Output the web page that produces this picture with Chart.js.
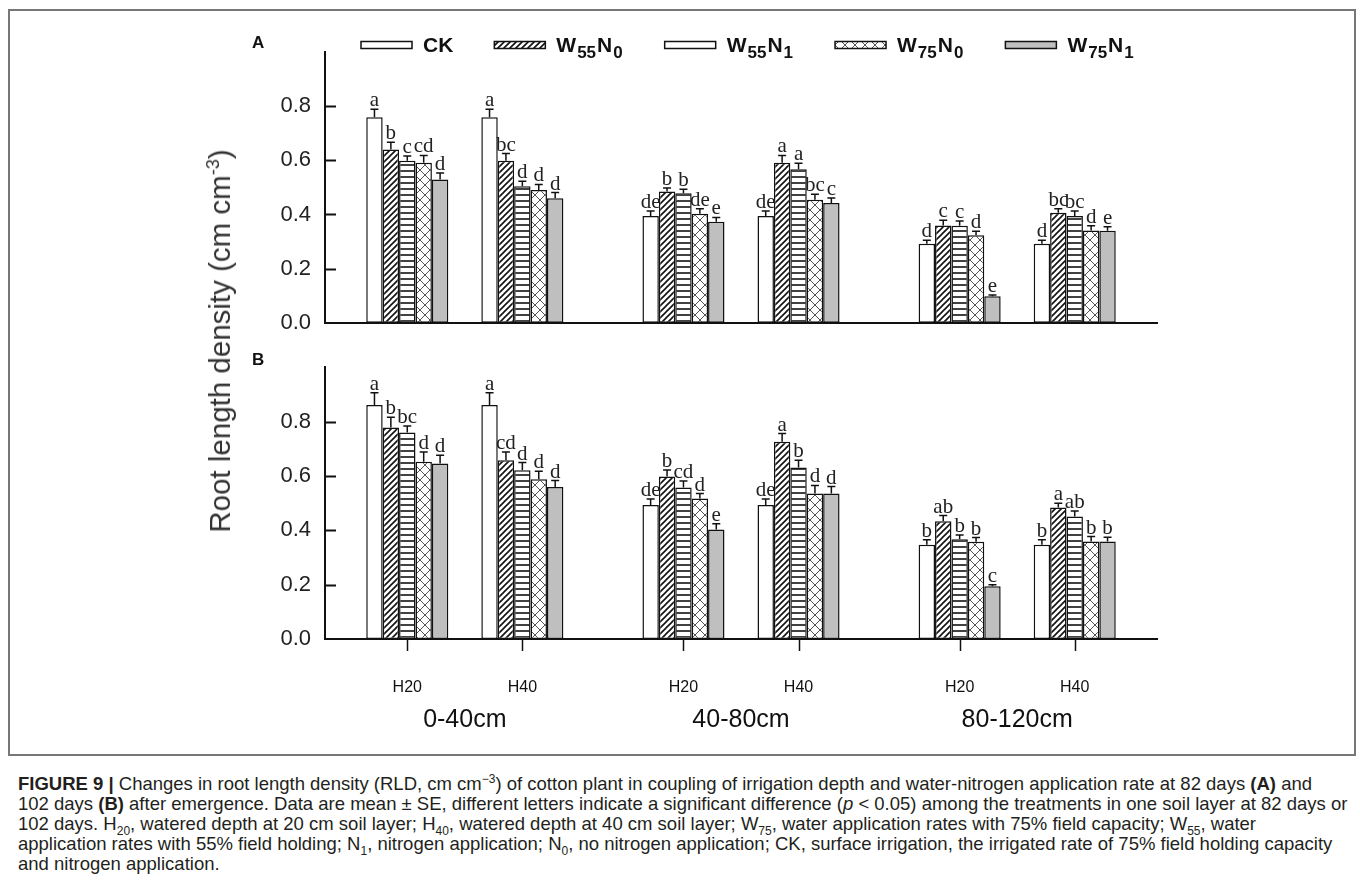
<!DOCTYPE html>
<html>
<head>
<meta charset="utf-8">
<script src="https://cdn.jsdelivr.net/npm/chart.js@4.4.1/dist/chart.umd.min.js"></script>
<style>
  html, body { margin: 0; padding: 0; background: #fff; }
  body { width: 1360px; height: 881px; position: relative; overflow: hidden;
         font-family: 'Liberation Sans', Arial, sans-serif; color: #222; }
  #frame { position: absolute; left: 8px; top: 9px; width: 1348px; height: 747px;
           border: 2px solid #777; box-sizing: border-box; }
  canvas { position: absolute; left: 0; }
  #chartA { top: 0; }
  #chartB { top: 340px; }
  .tag { position: absolute; font-weight: bold; font-size: 17px; color: #111; }
  #ytitle { position: absolute; left: 220px; top: 341px; white-space: nowrap;
            transform: translate(-50%, -50%) rotate(-90deg); font-size: 29.5px; color: #333; }
  #ytitle sup { font-size: 18px; }
  #caption { position: absolute; left: 18px; top: 774px; width: 1340px; font-size: 18.5px;
             line-height: 20px; color: #231f20; white-space: nowrap; }
  #caption sub, #caption sup { font-size: 12px; line-height: 0; }
</style>
</head>
<body>
<div id="frame"></div>
<canvas id="chartA" width="1360" height="350"></canvas>
<canvas id="chartB" width="1360" height="410"></canvas>
<div class="tag" style="left:252px; top:33px;">A</div>
<div class="tag" style="left:252px; top:350px;">B</div>
<div id="ytitle">Root length density (cm cm<sup>-3</sup>)</div>
<div id="caption">
<b>FIGURE 9 |</b> Changes in root length density (RLD, cm cm<sup>−3</sup>) of cotton plant in coupling of irrigation depth and water-nitrogen application rate at 82 days <b>(A)</b> and<br>
102 days <b>(B)</b> after emergence. Data are mean ± SE, different letters indicate a significant difference (<i>p</i> &lt; 0.05) among the treatments in one soil layer at 82 days or<br>
102 days. H<sub>20</sub>, watered depth at 20 cm soil layer; H<sub>40</sub>, watered depth at 40 cm soil layer; W<sub>75</sub>, water application rates with 75% field capacity; W<sub>55</sub>, water<br>
application rates with 55% field holding; N<sub>1</sub>, nitrogen application; N<sub>0</sub>, no nitrogen application; CK, surface irrigation, the irrigated rate of 75% field holding capacity<br>
and nitrogen application.
</div>
<script>
// categories
const depths = ['H20', 'H40'];
const layers = ['0-40cm', '40-80cm', '80-120cm'];
const treatments = ['CK', 'W55N0', 'W55N1', 'W75N0', 'W75N1'];

// (A) 82 days -- order: 0-40 H20, 0-40 H40, 40-80 H20, 40-80 H40, 80-120 H20, 80-120 H40
const ckA    = [0.759, 0.759, 0.394, 0.394, 0.292, 0.292];
const w55n0A = [0.640, 0.598, 0.485, 0.591, 0.359, 0.406];
const w55n1A = [0.598, 0.504, 0.478, 0.567, 0.358, 0.394];
const w75n0A = [0.591, 0.490, 0.403, 0.454, 0.323, 0.341];
const w75n1A = [0.529, 0.460, 0.373, 0.442, 0.098, 0.340];

const ckAErr    = [0.030, 0.030, 0.019, 0.019, 0.013, 0.013];
const w55n0AErr = [0.027, 0.027, 0.013, 0.027, 0.020, 0.015];
const w55n1AErr = [0.018, 0.019, 0.015, 0.022, 0.018, 0.019];
const w75n0AErr = [0.027, 0.021, 0.018, 0.021, 0.015, 0.017];
const w75n1AErr = [0.024, 0.021, 0.016, 0.019, 0.005, 0.015];

const ckALet    = ['a', 'a', 'de', 'de', 'd', 'd'];
const w55n0ALet = ['b', 'bc', 'b', 'a', 'c', 'bc'];
const w55n1ALet = ['c', 'd', 'b', 'a', 'c', 'bc'];
const w75n0ALet = ['cd', 'd', 'de', 'bc', 'd', 'd'];
const w75n1ALet = ['d', 'd', 'e', 'c', 'e', 'e'];

// (B) 102 days
const ckB    = [0.861, 0.861, 0.493, 0.493, 0.347, 0.347];
const w55n0B = [0.778, 0.658, 0.598, 0.726, 0.433, 0.484];
const w55n1B = [0.760, 0.621, 0.557, 0.631, 0.367, 0.451];
const w75n0B = [0.652, 0.588, 0.517, 0.535, 0.358, 0.359];
const w75n1B = [0.646, 0.559, 0.403, 0.535, 0.194, 0.359];

const ckBErr    = [0.045, 0.045, 0.022, 0.022, 0.018, 0.018];
const w55n0BErr = [0.038, 0.030, 0.024, 0.030, 0.021, 0.015];
const w55n1BErr = [0.024, 0.028, 0.024, 0.027, 0.016, 0.020];
const w75n0BErr = [0.036, 0.029, 0.018, 0.030, 0.015, 0.018];
const w75n1BErr = [0.030, 0.024, 0.021, 0.026, 0.006, 0.015];

const ckBLet    = ['a', 'a', 'de', 'de', 'b', 'b'];
const w55n0BLet = ['b', 'cd', 'b', 'a', 'ab', 'a'];
const w55n1BLet = ['bc', 'd', 'cd', 'b', 'b', 'ab'];
const w75n0BLet = ['d', 'd', 'd', 'd', 'b', 'b'];
const w75n1BLet = ['d', 'd', 'e', 'd', 'c', 'b'];

// y axis
const yMin = 0, yMax = 1, yStep = 0.2;

// x layout: one unit between H20 and H40, a wider step between soil layers
const LAYER_STEP = 2.4;
const X_PAD = 0.715;
const FONT = "'Liberation Sans', Arial, sans-serif";
const INK = '#111';

Chart.defaults.font.family = FONT;
Chart.defaults.color = INK;

function xPos(k) {
    return Math.floor(k / 2) * LAYER_STEP + (k % 2);
}
const depthTicks = depths.length * layers.length;
const tickValues = Array.from({ length: depthTicks }, (_, k) => xPos(k));
const layerValues = layers.map((_, i) => i * LAYER_STEP + 0.5);
const xMax = tickValues[tickValues.length - 1] + X_PAD;

function makePattern(kind) {
    const c = document.createElement('canvas');
    const size = kind === 'cross' ? 10 : 6;
    c.width = size; c.height = size;
    const g = c.getContext('2d');
    g.fillStyle = '#fff';
    g.fillRect(0, 0, size, size);
    g.strokeStyle = INK;
    g.beginPath();
    if (kind === 'diag') {
        g.lineWidth = 1.6;
        g.moveTo(-1, 7); g.lineTo(7, -1);
        g.moveTo(-1, 1); g.lineTo(1, -1);
        g.moveTo(5, 7); g.lineTo(7, 5);
    } else if (kind === 'horiz') {
        g.lineWidth = 1.6;
        g.moveTo(0, 3); g.lineTo(6, 3);
    } else if (kind === 'cross') {
        g.strokeStyle = '#555';
        g.lineWidth = 1;
        g.moveTo(0, 0); g.lineTo(10, 10);
        g.moveTo(10, 0); g.lineTo(0, 10);
    }
    g.stroke();
    return g.createPattern(c, 'repeat');
}

const fills = [
    '#ffffff',
    makePattern('diag'),
    makePattern('horiz'),
    makePattern('cross'),
    '#bfbfbf'
];
// the thin legend keys show no stripes for W55N1
const keyFills = fills.map((f, i) => (i === 2 ? '#ffffff' : f));

// error bars with their letters
const errorPlugin = {
    id: 'errorLetters',
    afterDatasetsDraw(chart) {
        const { ctx } = chart;
        const y = chart.scales.y;
        chart.data.datasets.forEach((ds, i) => {
            const meta = chart.getDatasetMeta(i);
            meta.data.forEach((bar, j) => {
                const top = y.getPixelForValue(ds.data[j].y + ds.errors[j]);
                ctx.save();
                ctx.strokeStyle = INK;
                ctx.lineWidth = 1.5;
                ctx.beginPath();
                ctx.moveTo(bar.x, bar.y);
                ctx.lineTo(bar.x, top);
                ctx.moveTo(bar.x - 4, top);
                ctx.lineTo(bar.x + 4, top);
                ctx.stroke();
                ctx.fillStyle = '#222';
                ctx.font = "21px 'Liberation Serif', 'Times New Roman', serif";
                ctx.textAlign = 'center';
                ctx.textBaseline = 'alphabetic';
                ctx.fillText(ds.letters[j], bar.x, top - 3);
                ctx.restore();
            });
        });
    }
};

// y tick marks pointing into the plot
const innerTicks = {
    id: 'innerTicks',
    afterDraw(chart) {
        const { ctx } = chart;
        const y = chart.scales.y;
        ctx.save();
        ctx.strokeStyle = INK;
        ctx.lineWidth = 2;
        ctx.beginPath();
        y.ticks.forEach(t => {
            if (t.value <= yMin || t.value >= yMax - 1e-9) return;
            const py = Math.round(y.getPixelForValue(t.value)) + 0.5;
            ctx.moveTo(y.right, py);
            ctx.lineTo(y.right + 11, py);
        });
        ctx.stroke();
        ctx.restore();
    }
};

// x tick marks below the baseline of panel B
const bottomTicks = {
    id: 'bottomTicks',
    afterDraw(chart) {
        const { ctx } = chart;
        const x = chart.scales.x;
        ctx.save();
        ctx.strokeStyle = INK;
        ctx.lineWidth = 1.5;
        ctx.beginPath();
        x.ticks.forEach((t, i) => {
            const px = Math.round(x.getPixelForTick(i)) + 0.5;
            ctx.moveTo(px, x.top);
            ctx.lineTo(px, x.top + 12);
        });
        ctx.stroke();
        ctx.restore();
    }
};

// legend row with subscripts
const legendRow = {
    id: 'legendRow',
    afterDraw(chart) {
        const { ctx } = chart;
        const cy = 45;
        let x = 361;
        treatments.forEach((name, i) => {
            ctx.save();
            ctx.fillStyle = keyFills[i];
            ctx.fillRect(x, cy - 3.5, 51, 7);
            ctx.strokeStyle = INK;
            ctx.lineWidth = 1.5;
            ctx.strokeRect(x, cy - 3.5, 51, 7);
            let tx = x + 62;
            const parts = name.match(/[A-Z]+\d*/g);
            parts.forEach(p => {
                const m = p.match(/([A-Z]+)(\d*)/);
                ctx.fillStyle = INK;
                ctx.font = 'bold 21px ' + FONT;
                ctx.textBaseline = 'alphabetic';
                ctx.fillText(m[1], tx, cy + 7);
                tx += ctx.measureText(m[1]).width;
                if (m[2]) {
                    ctx.font = 'bold 17px ' + FONT;
                    ctx.fillText(m[2], tx + 1, cy + 13);
                    tx += ctx.measureText(m[2]).width + 2;
                }
            });
            ctx.restore();
            x = tx + 41;
        });
    }
};

function buildChart(canvasId, series, errs, lets, bottomAxis, extraPlugins, padding) {
    const datasets = treatments.map((name, i) => ({
        label: name,
        data: series[i].map((v, k) => ({ x: xPos(k), y: v })),
        errors: errs[i],
        letters: lets[i],
        backgroundColor: fills[i],
        borderColor: INK,
        borderWidth: 1.5,
        borderSkipped: false,
        categoryPercentage: 0.713,
        barPercentage: 1.0,
        xAxisID: 'x',
        yAxisID: 'y'
    }));

    const scales = {
        x: {
            type: 'linear',
            min: -X_PAD,
            max: xMax,
            bounds: 'data',
            offset: false,
            afterBuildTicks: s => { s.ticks = tickValues.map(v => ({ value: v })); },
            grid: { display: false, offset: false, drawTicks: false },
            border: { display: true, color: INK, width: 2 },
            ticks: {
                display: bottomAxis, autoSkip: false, maxRotation: 0, padding: 39,
                font: { size: 16 }, color: INK,
                callback: (v, i) => depths[i % depths.length]
            },
            afterFit: s => { s.height = bottomAxis ? 62 : 0; }
        },
        y: {
            min: yMin,
            max: yMax,
            grid: { display: false, drawTicks: false },
            border: { display: true, color: INK, width: 2 },
            ticks: {
                stepSize: yStep, padding: 14, font: { size: 22 }, color: '#222',
                callback: v => (v >= yMax - 1e-9 ? '' : v.toFixed(1))
            },
            afterFit: s => { s.width = 70; }
        }
    };
    if (bottomAxis) {
        scales.xL = {
            type: 'linear',
            position: 'bottom',
            weight: 1,
            min: -X_PAD,
            max: xMax,
            bounds: 'data',
            offset: false,
            afterBuildTicks: s => { s.ticks = layerValues.map(v => ({ value: v })); },
            grid: { display: false, offset: false, drawTicks: false },
            border: { display: false },
            ticks: {
                autoSkip: false, maxRotation: 0, padding: 4,
                font: { size: 25 }, color: INK,
                callback: (v, i) => layers[i]
            },
            afterFit: s => { s.height = 40; }
        };
    }

    return new Chart(document.getElementById(canvasId), {
        type: 'bar',
        data: { datasets },
        options: {
            responsive: false,
            animation: false,
            layout: { padding },
            plugins: { legend: { display: false }, tooltip: { enabled: false } },
            scales
        },
        plugins: [errorPlugin, innerTicks].concat(extraPlugins)
    });
}

buildChart('chartA',
    [ckA, w55n0A, w55n1A, w75n0A, w75n1A],
    [ckAErr, w55n0AErr, w55n1AErr, w75n0AErr, w75n1AErr],
    [ckALet, w55n0ALet, w55n1ALet, w75n0ALet, w75n1ALet],
    false, [legendRow],
    { left: 255, right: 203, top: 52, bottom: 21 });

buildChart('chartB',
    [ckB, w55n0B, w55n1B, w75n0B, w75n1B],
    [ckBErr, w55n0BErr, w55n1BErr, w75n0BErr, w75n1BErr],
    [ckBLet, w55n0BLet, w55n1BLet, w75n0BLet, w75n1BLet],
    true, [bottomTicks],
    { left: 255, right: 203, top: 22, bottom: 9 });
</script>
</body>
</html>
